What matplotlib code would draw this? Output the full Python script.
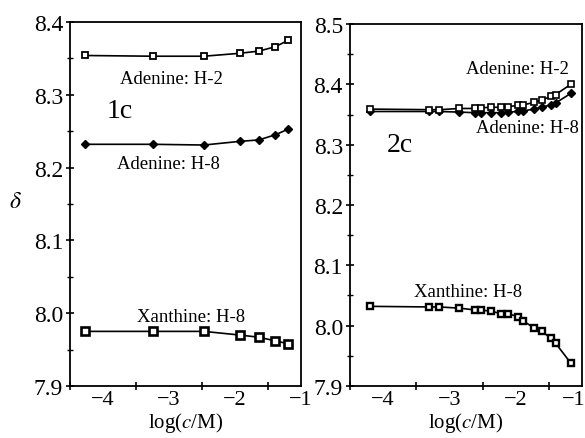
import matplotlib.pyplot as plt
import matplotlib.transforms as mtransforms
from matplotlib.ticker import MultipleLocator

plt.rcParams['font.family'] = ['Liberation Serif', 'DejaVu Serif']
plt.rcParams['mathtext.fontset'] = 'stix'

# panel 1c
x1 = [-4.28, -3.25, -2.47, -1.93, -1.64, -1.39, -1.19]
ade_h2_1 = [8.354, 8.353, 8.353, 8.357, 8.360, 8.366, 8.375]
ade_h8_1 = [8.232, 8.232, 8.231, 8.236, 8.238, 8.245, 8.253]
xan_h8_1 = [7.975, 7.975, 7.975, 7.970, 7.967, 7.962, 7.958]

# panel 2c
x2 = [-4.20, -3.30, -3.15, -2.85, -2.61, -2.53, -2.38, -2.22, -2.12,
      -1.97, -1.89, -1.72, -1.61, -1.47, -1.40, -1.17]
ade_h2_2 = [8.359, 8.358, 8.358, 8.360, 8.360, 8.361, 8.362, 8.362, 8.363,
            8.365, 8.366, 8.370, 8.374, 8.380, 8.383, 8.400]
ade_h8_2 = [8.355, 8.355, 8.355, 8.354, 8.353, 8.353, 8.353, 8.353, 8.354,
            8.355, 8.356, 8.359, 8.362, 8.366, 8.369, 8.385]
xan_h8_2 = [8.032, 8.031, 8.031, 8.029, 8.026, 8.026, 8.024, 8.020, 8.020,
            8.015, 8.008, 7.996, 7.991, 7.979, 7.971, 7.938]

fig = plt.figure(figsize=(5.85, 4.39), dpi=100)
ax1 = fig.add_axes([0.1197, 0.1185, 0.3948, 0.8291])
ax2 = fig.add_axes([0.598, 0.1185, 0.397, 0.8245])

sq_open = dict(marker='s', ms=5, mfc='white', mec='black', mew=1.3, color='black', lw=1.2)
sq_thick = dict(marker='s', ms=5.5, mfc='white', mec='black', mew=1.9, color='black', lw=1.2)
dia = dict(marker='D', ms=4.2, mfc='black', mec='black', color='black', lw=1.2)

ax1.plot(x1, ade_h2_1, **sq_open)
ax1.plot(x1, ade_h8_1, **dia)
ax1.plot(x1, xan_h8_1, **sq_thick)

sq_open2 = dict(sq_open, ms=4.3, mew=1.2)
sq_thick2 = dict(sq_thick, ms=4.6, mew=1.7)
dia2 = dict(dia, ms=3.8)
ax2.plot(x2, ade_h8_2, **dia2)
ax2.plot(x2, ade_h2_2, **sq_open2)
ax2.plot(x2, xan_h8_2, **sq_thick2)

lab = dict(fontsize=13.5, ha='center', va='center')
ax1.text(-2.96, 8.323, 'Adenine: H-2', **lab)
ax1.text(-3.01, 8.205, 'Adenine: H-8', **lab)
ax1.text(-2.66, 7.996, 'Xanthine: H-8', **lab)
ax1.text(-3.75, 8.278, '1c', fontsize=20, ha='center', va='center')

ax2.text(-1.97, 8.427, 'Adenine: H-2', **lab)
ax2.text(-1.83, 8.329, 'Adenine: H-8', **lab)
ax2.text(-2.72, 8.057, 'Xanthine: H-8', **lab)
ax2.text(-3.74, 8.301, '2c', fontsize=20, ha='center', va='center')

ax1.set_ylim(7.9, 8.4)
ax2.set_ylim(7.9, 8.5)
for ax in (ax1, ax2):
    ax.set_xlim(-4.5, -1.0)
    ax.set_xticks([-4, -3, -2, -1])
    ax.xaxis.set_minor_locator(MultipleLocator(1.0, offset=0.5))
    ax.yaxis.set_major_locator(MultipleLocator(0.1))
    ax.yaxis.set_minor_locator(MultipleLocator(0.05))
    ax.yaxis.set_major_formatter(plt.FormatStrFormatter('%.1f'))
    ax.tick_params(axis='x', which='major', length=0, labelsize=16, pad=3)
    ax.tick_params(axis='x', which='minor', direction='inout', length=6, width=1.2)
    ax.tick_params(axis='y', which='major', direction='inout', length=6, width=1.2, labelsize=17, pad=2)
    ax.tick_params(axis='y', which='minor', direction='inout', length=4, width=1.0)
    ax.set_xticklabels(['\u22124', '\u22123', '\u22122', '\u22121'])
    ax.set_xlabel(r'log($c$/M)', fontsize=15, labelpad=0.5)
    for s in ax.spines.values():
        s.set_linewidth(1.3)

# keep the last label of the right panel inside the figure
last = ax2.get_xticklabels()[-1]
last.set_horizontalalignment('right')
last.set_transform(last.get_transform() + mtransforms.ScaledTranslation(3 / 100, 0, fig.dpi_scale_trans))

fig.text(15 / 585, 1 - 203 / 439, r'$\delta$', fontsize=17, ha='center', va='center')

fig.savefig('out.png', dpi=100)
